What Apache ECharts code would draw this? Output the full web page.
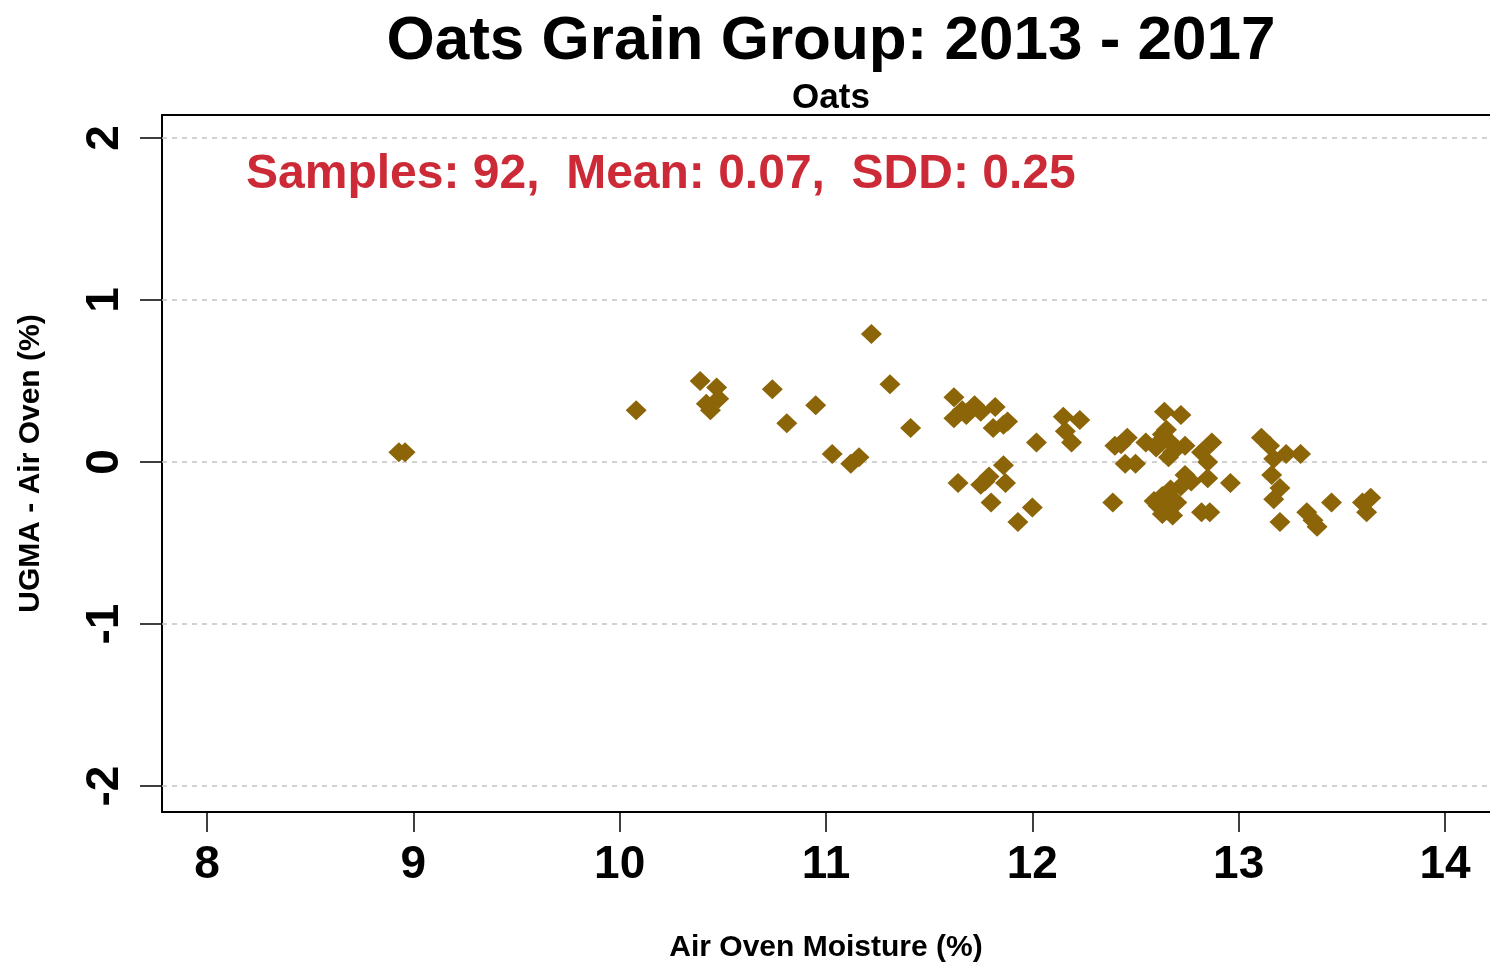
<!DOCTYPE html>
<html>
<head>
<meta charset="utf-8">
<script src="https://cdn.jsdelivr.net/npm/echarts@6/dist/echarts.min.js"></script>
<style>
html,body{margin:0;padding:0;background:#fff;}
#chart{width:1490px;height:965px;}
</style>
</head>
<body>
<div id="chart"></div>
<script>
// ---- data ----
const titleText = 'Oats Grain Group: 2013 - 2017';
const subtitleText = 'Oats';
const statsText = 'Samples: 92,  Mean: 0.07,  SDD: 0.25';
const xAxisName = 'Air Oven Moisture (%)';
const yAxisName = 'UGMA - Air Oven (%)';
const xTicks = [8, 9, 10, 11, 12, 13, 14];
const yTicks = [-2, -1, 0, 1, 2];

// Air oven moisture (%)
const moisture = [
  8.93, 8.96, 10.08, 10.39, 10.47, 10.48, 10.44, 10.42, 10.74, 10.81,
  10.95, 11.03, 11.12, 11.16, 11.22, 11.31, 11.41,
  11.62, 11.62, 11.66, 11.72, 11.75, 11.82, 11.86, 11.81, 11.88, 12.02,
  12.15, 12.23, 12.16, 12.19, 11.64, 11.75, 11.79, 11.86, 11.87, 11.80,
  11.93, 12.00, 11.77,
  12.40, 12.46, 12.43, 12.55, 12.64, 12.72, 12.63, 12.67, 12.66, 12.74,
  12.60, 12.45, 12.50, 12.82, 12.87, 12.85, 12.85, 12.77, 12.72, 12.67,
  12.63, 12.61, 12.66, 12.68, 12.63, 12.39, 12.82, 12.86, 12.74, 12.68,
  12.65, 12.62,
  12.96, 12.70, 13.11, 13.15, 13.17, 13.23, 13.30, 13.16, 13.20, 13.17,
  13.20, 13.33, 13.38, 13.45, 13.60, 13.64, 13.62, 13.36, 12.59, 11.68
];
// UGMA - Air oven difference (%)
const difference = [
  0.06, 0.06, 0.32, 0.50, 0.46, 0.39, 0.32, 0.36, 0.45, 0.24,
  0.35, 0.05, -0.01, 0.03, 0.79, 0.48, 0.21,
  0.40, 0.27, 0.32, 0.35, 0.31, 0.34, 0.23, 0.21, 0.25, 0.12,
  0.28, 0.26, 0.19, 0.12, -0.13, -0.14, -0.09, -0.02, -0.13, -0.25,
  -0.37, -0.28, -0.12,
  0.10, 0.15, 0.11, 0.12, 0.31, 0.29, 0.17, 0.12, 0.03, 0.10,
  0.09, -0.01, -0.01, 0.06, 0.12, 0.00, -0.10, -0.12, -0.15, -0.17,
  -0.21, -0.27, -0.28, -0.33, -0.32, -0.25, -0.31, -0.31, -0.08, 0.06,
  0.20, 0.13,
  -0.13, -0.25, 0.15, 0.10, 0.02, 0.05, 0.05, -0.08, -0.16, -0.23,
  -0.37, -0.31, -0.40, -0.25, -0.25, -0.22, -0.31, -0.36, -0.24, 0.29
];

const points = moisture.map((x, i) => [x, difference[i]]);

const chart = echarts.init(document.getElementById('chart'), null, {renderer: 'canvas'});
const FONT = 'Liberation Sans, Arial, sans-serif';
const X_MIN = 7.782, X_MAX = 14.218, Y_MIN = -2.16, Y_MAX = 2.142;

chart.setOption({
  animation: false,
  backgroundColor: '#ffffff',
  title: [
    {
      text: titleText, left: 826, top: 6, textAlign: 'center',
      textStyle: {fontFamily: FONT, fontWeight: 'bold', fontSize: 62, color: '#000'}
    },
    {
      text: subtitleText, left: 826, top: 76, textAlign: 'center',
      textStyle: {fontFamily: FONT, fontWeight: 'bold', fontSize: 35, color: '#000'}
    },
    {
      text: statsText, left: 241, top: 146,
      textStyle: {fontFamily: FONT, fontWeight: 'bold', fontSize: 48, color: '#cc2a36'}
    }
  ],
  grid: {
    left: 162, top: 115, right: 0, bottom: 153,
    show: false, containLabel: false, outerBoundsMode: 'none'
  },
  xAxis: [
    {
      type: 'value', min: X_MIN, max: X_MAX, position: 'bottom',
      name: xAxisName, nameLocation: 'middle', nameGap: 121,
      nameTextStyle: {fontFamily: FONT, fontWeight: 'bold', fontSize: 30, color: '#000'},
      axisLine: {show: true, onZero: false, lineStyle: {color: '#000', width: 2}},
      axisTick: {show: true, inside: false, length: 20, customValues: xTicks, lineStyle: {color: '#000', width: 1.5}},
      axisLabel: {show: true, margin: 30, customValues: xTicks, fontFamily: FONT, fontWeight: 'bold', fontSize: 46, color: '#000'},
      splitLine: {show: false}
    },
    {
      type: 'value', min: X_MIN, max: X_MAX, position: 'top',
      axisLine: {show: true, onZero: false, lineStyle: {color: '#000', width: 2}},
      axisTick: {show: false}, axisLabel: {show: false}, splitLine: {show: false}
    }
  ],
  yAxis: {
    type: 'value', min: Y_MIN, max: Y_MAX,
    name: yAxisName, nameLocation: 'middle', nameGap: 116, nameRotate: 90,
    nameTextStyle: {fontFamily: FONT, fontWeight: 'bold', fontSize: 30, color: '#000'},
    axisLine: {show: true, onZero: false, lineStyle: {color: '#000', width: 2}},
    axisTick: {show: true, inside: false, length: 22, customValues: yTicks, lineStyle: {color: '#000', width: 1.5}},
    axisLabel: {show: true, rotate: 90, margin: 34, customValues: yTicks, fontFamily: FONT, fontWeight: 'bold', fontSize: 46, color: '#000'},
    splitLine: {show: false}
  },
  series: [
    {
      type: 'scatter',
      xAxisIndex: 0,
      data: points,
      symbol: 'diamond',
      symbolSize: [21, 20],
      itemStyle: {color: '#8B6508', opacity: 1},
      markLine: {
        silent: true, symbol: 'none', animation: false,
        label: {show: false},
        lineStyle: {color: '#c4c4c4', type: [5, 5], width: 1.5},
        data: yTicks.map(v => ({yAxis: v})),
        z: 1
      },
      z: 3
    }
  ]
});
</script>
</body>
</html>
